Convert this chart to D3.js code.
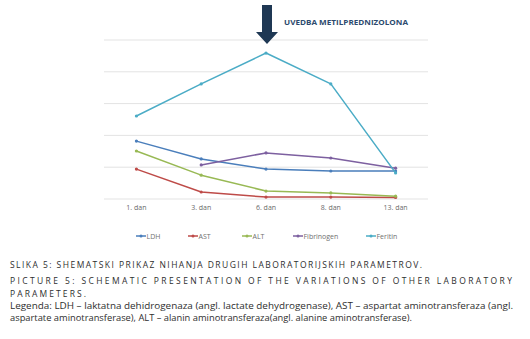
<!DOCTYPE html>
<html><head><meta charset="utf-8">
<script src="https://cdn.jsdelivr.net/npm/d3@7"></script>
<style>body{margin:0;background:#fff}svg{display:block}</style>
</head><body>
<svg id="c" width="530" height="339"></svg>
<script>
const categories = ["1. dan","3. dan","6. dan","8. dan","13. dan"];
const seriesNames = ["LDH","AST","ALT","Fibrinogen","Feritin"];
const seriesColors = ["#4a7ebb","#be4b48","#98b954","#7d60a0","#4bacc6"];
const ldh = [1.82,1.26,0.94,0.88,0.88];
const ast = [0.94,0.22,0.06,0.06,0.05];
const alt = [1.51,0.75,0.25,0.19,0.09];
const fibrinogen = [null,1.07,1.45,1.29,0.97];
const feritin = [2.61,3.62,4.59,3.62,0.82];
const yTicks = [0,1,2,3,4,5];
const annotation = "UVEDBA METILPREDNIZOLONA";
const captionLines = [
  "SLIKA 5: SHEMATSKI PRIKAZ NIHANJA DRUGIH LABORATORIJSKIH PARAMETROV.",
  "PICTURE 5: SCHEMATIC PRESENTATION OF THE VARIATIONS OF OTHER LABORATORY",
  "PARAMETERS.",
  "Legenda: LDH – laktatna dehidrogenaza (angl. lactate dehydrogenase), AST – aspartat aminotransferaza (angl.",
  "aspartate aminotransferase), ALT – alanin aminotransferaza(angl. alanine aminotransferase)."
];
const allSeries = [ldh, ast, alt, fibrinogen, feritin];

const svg = d3.select("#c");
const x = d3.scaleBand().domain(categories).range([104,428]);
const y = d3.scaleLinear().domain([0,5]).range([199,40]);

// gridlines
svg.append("g").selectAll("line").data(yTicks).join("line")
  .attr("x1",104).attr("x2",428)
  .attr("y1",d=>y(d)).attr("y2",d=>y(d))
  .attr("stroke","#e3e3e3").attr("stroke-width",1);

// x axis labels
const xAxis = d3.axisBottom(x).tickSize(0).tickPadding(6);
const gx = svg.append("g").attr("transform","translate(0,199)").call(xAxis);
gx.select(".domain").remove();
gx.selectAll("text").attr("font-family","Open Sans, sans-serif").attr("font-size",7).attr("fill","#6a6a6a");

// series
const line = d3.line().defined(d=>d.v!=null).x(d=>x(d.c)+x.bandwidth()/2).y(d=>y(d.v));
allSeries.forEach((s,i)=>{
  const pts = categories.map((c,j)=>({c, v:s[j]}));
  svg.append("path").datum(pts).attr("d",line).attr("fill","none")
    .attr("stroke",seriesColors[i]).attr("stroke-width",1.5).attr("stroke-linejoin","round");
  svg.append("g").selectAll("circle").data(pts.filter(d=>d.v!=null)).join("circle")
    .attr("cx",d=>x(d.c)+x.bandwidth()/2).attr("cy",d=>y(d.v)).attr("r",1.6)
    .attr("fill",seriesColors[i]);
});

// arrow annotation
const ax = x("6. dan")+x.bandwidth()/2 + 1;
svg.append("path")
  .attr("d",`M${ax-5},5 L${ax+5},5 L${ax+5},32 L${ax+11},32 L${ax},44 L${ax-11},32 L${ax-5},32 Z`)
  .attr("fill","#1f3854");
svg.append("text").attr("x",284).attr("y",24.5).text(annotation)
  .attr("font-family","Open Sans, sans-serif").attr("font-weight","bold").attr("font-size",7.6)
  .attr("fill","#2c4a6e").attr("textLength",124).attr("lengthAdjust","spacingAndGlyphs");

// legend
const legX = [136,188,242,293,366];
const lg = svg.append("g").selectAll("g").data(seriesNames).join("g")
  .attr("transform",(d,i)=>`translate(${legX[i]},236)`);
lg.append("line").attr("x1",0).attr("x2",10).attr("stroke",(d,i)=>seriesColors[i]).attr("stroke-width",1.5);
lg.append("circle").attr("cx",5).attr("r",1.5).attr("fill",(d,i)=>seriesColors[i]);
lg.append("text").attr("x",10.5).attr("y",2.5).text(d=>d)
  .attr("font-family","Open Sans, sans-serif").attr("font-size",7).attr("fill","#707070");

// caption
const capY = [268,284,296.5,309,321];
const capW = [412,502,76,503,402];
const capAdj = ["spacing","spacing","spacing","spacingAndGlyphs","spacingAndGlyphs"];
svg.append("g").selectAll("text").data(captionLines).join("text")
  .attr("x",10).attr("y",(d,i)=>capY[i]).text(d=>d)
  .attr("font-family","Open Sans, sans-serif")
  .attr("font-size",(d,i)=>i<3?8.5:8.6)
  .attr("fill","#2e2e2e")
  .attr("textLength",(d,i)=>capW[i]).attr("lengthAdjust",(d,i)=>capAdj[i]);
</script>
</body></html>
